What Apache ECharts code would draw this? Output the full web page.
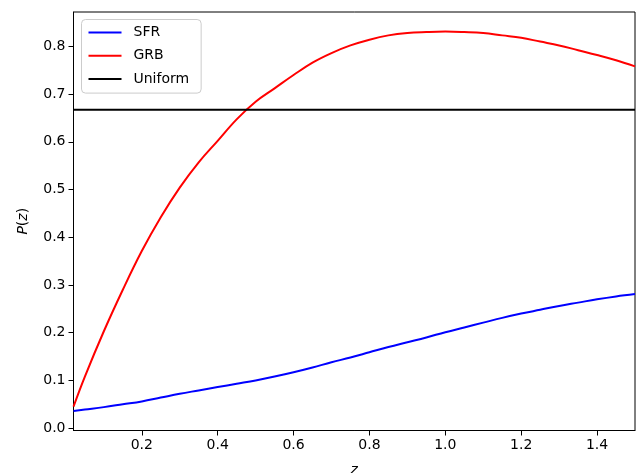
<!DOCTYPE html>
<html>
<head>
<meta charset="utf-8">
<script src="https://cdn.jsdelivr.net/npm/echarts@6/dist/echarts.min.js"></script>
<style>
html,body{margin:0;padding:0;background:#fff;}
#main{width:637px;height:473px;}
</style>
</head>
<body>
<div id="main"></div>
<script>
// values
var zValues = [0.02,0.05,0.1,0.15,0.2,0.25,0.3,0.35,0.4,0.45,0.5,0.55,0.6,0.65,0.7,0.75,0.8,0.85,0.9,0.95,
               1.0,1.05,1.1,1.15,1.2,1.25,1.3,1.35,1.4,1.45,1.5];
var sfrValues = [0.036,0.039,0.044,0.050,0.056,0.064,0.072,0.079,0.086,0.093,0.100,0.108,0.117,0.127,0.138,0.148,0.159,0.170,0.180,0.190,
                 0.201,0.211,0.221,0.231,0.240,0.248,0.256,0.263,0.270,0.276,0.281];
var grbValues = [0.045,0.108,0.203,0.290,0.371,0.442,0.504,0.557,0.602,0.647,0.684,0.712,0.740,0.766,0.786,0.802,0.814,0.823,0.828,0.830,
                 0.831,0.830,0.828,0.823,0.818,0.810,0.802,0.792,0.782,0.771,0.758];
var uniformValue = 0.667;
var xTicks = [0.2,0.4,0.6,0.8,1.0,1.2,1.4];
var yTicks = [0.0,0.1,0.2,0.3,0.4,0.5,0.6,0.7,0.8];

function pairs(xs, ys){
    var out = [];
    for (var i = 0; i < xs.length; i++) out.push([xs[i], ys[i]]);
    return out;
}
var uniformData = [[zValues[0], uniformValue],[zValues[zValues.length-1], uniformValue]];

var chart = echarts.init(document.getElementById('main'), null, {renderer:'canvas'});
var font = 'DejaVu Sans';
var option = {
    animation: false,
    textStyle: {fontFamily: font},
    grid: {
        left: 73.5, right: 2, top: 12, bottom: 42.5,
        containLabel: false, outerBoundsMode: 'none',
        show: true, borderColor: '#000', borderWidth: 1, backgroundColor: '#fff'
    },
    legend: {
        orient: 'vertical',
        left: 81.5, top: 19.5,
        padding: [6, 12, 7, 6],
        itemWidth: 33, itemHeight: 14, itemGap: 9.3,
        itemStyle: {opacity: 0},
        backgroundColor: 'rgba(255,255,255,0.8)',
        borderColor: '#cccccc', borderWidth: 1, borderRadius: 4,
        textStyle: {fontFamily: font, fontSize: 14, color: '#000', padding: [0,0,0,7]},
        data: ['SFR','GRB','Uniform']
    },
    xAxis: {
        type: 'value', min: 0.02, max: 1.5,
        name: '{i|z}', nameLocation: 'middle', nameGap: 33,
        nameTextStyle: {rich: {i: {fontFamily: font, fontStyle: 'italic', fontSize: 14, color: '#000'}}},
        axisLine: {show: true, onZero: false, lineStyle: {color: '#000', width: 1}},
        axisTick: {show: true, inside: false, length: 5, customValues: xTicks, lineStyle: {color: '#000'}},
        axisLabel: {customValues: xTicks, color: '#000', fontSize: 14, fontFamily: font, margin: 8,
            formatter: function(v){ return v.toFixed(1); }},
        splitLine: {show: false}
    },
    yAxis: {
        type: 'value', min: -0.005, max: 0.872,
        name: '{i|P}{r|(}{i|z}{r|)}', nameLocation: 'middle', nameGap: 43, nameRotate: 90,
        nameTextStyle: {rich: {
            i: {fontFamily: font, fontStyle: 'italic', fontSize: 14, color: '#000'},
            r: {fontFamily: font, fontSize: 14, color: '#000'}
        }},
        axisLine: {show: true, onZero: false, lineStyle: {color: '#000', width: 1}},
        axisTick: {show: true, inside: false, length: 5, customValues: yTicks, lineStyle: {color: '#000'}},
        axisLabel: {customValues: yTicks, color: '#000', fontSize: 14, fontFamily: font, margin: 8,
            formatter: function(v){ return v.toFixed(1); }},
        splitLine: {show: false}
    },
    series: [
        {name: 'SFR', type: 'line', data: pairs(zValues, sfrValues), smooth: 0.4, symbol: 'none',
            lineStyle: {color: '#0000ff', width: 2}, itemStyle: {color: '#0000ff'}},
        {name: 'GRB', type: 'line', data: pairs(zValues, grbValues), smooth: 0.4, symbol: 'none',
            lineStyle: {color: '#ff0000', width: 2}, itemStyle: {color: '#ff0000'}},
        {name: 'Uniform', type: 'line', data: uniformData, symbol: 'none',
            lineStyle: {color: '#000000', width: 2}, itemStyle: {color: '#000000'}}
    ]
};
chart.setOption(option);
</script>
</body>
</html>
